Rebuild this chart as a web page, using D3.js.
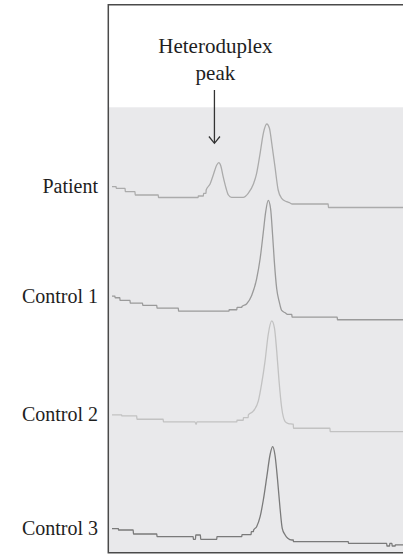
<!DOCTYPE html>
<html lang="en">
<head>
<meta charset="UTF-8" />
<title>Heteroduplex chromatograms</title>
<script src="https://d3js.org/d3.v7.min.js"></script>
<style>
  body { margin: 0; background: #fff; }
  svg text { font-family: "Liberation Serif", "Times New Roman", serif; fill: #1e1e1e; }
</style>
</head>
<body>
<script>
// trace names, top to bottom
const traceNames = ["Patient", "Control 1", "Control 2", "Control 3"];
const traceColors = ["#ababab", "#9a9a9a", "#c2c2c2", "#7a7a7a"];

// [time (min), signal]; a repeated time means a vertical step
const patient = [
  [0, 21.3], [0.14, 21.3], [0.14, 19.7], [0.45, 19.7], [0.45, 16.3], [0.79, 16.3], [0.79, 13],
  [1.59, 13], [1.59, 10.5], [2.96, 10.5], [2.96, 12], [3.14, 12], [3.14, 14.7], [3.23, 14.7],
  [3.23, 18], [3.37, 24], [3.48, 33], [3.60, 43], [3.67, 45.3], [3.74, 42], [3.82, 31.3],
  [3.92, 19.7], [4.00, 13], [4.11, 10.7], [4.51, 10.7], [4.68, 14.7], [4.86, 24], [4.97, 34.7],
  [5.09, 54.7], [5.20, 74.7], [5.32, 84], [5.41, 79.7], [5.49, 64.7], [5.60, 41.3], [5.71, 18],
  [5.83, 9.7], [6.00, 6.3], [6.12, 5], [6.19, 4], [7.43, 4], [7.43, 0.5], [10, 0.5]
];
const control1 = [
  [0, 23.6], [0.10, 23.6], [0.10, 22], [0.27, 22], [0.27, 19.3], [0.62, 19.3], [0.62, 16.6],
  [1.05, 16.6], [1.05, 14.3], [1.54, 14.3], [1.54, 11.6], [2.28, 11.6], [2.28, 8.6], [4.02, 8.6],
  [4.02, 10], [4.29, 10], [4.29, 12.3], [4.46, 12.3], [4.46, 13.3], [4.63, 16], [4.80, 24.3],
  [4.97, 41], [5.09, 61], [5.20, 87.6], [5.28, 107.6], [5.37, 119.3], [5.45, 111], [5.52, 84.3],
  [5.58, 57.6], [5.66, 31], [5.75, 17.6], [5.83, 9.3], [5.95, 7], [6.05, 5.3], [6.18, 5.3],
  [6.18, 2.6], [7.74, 2.6], [7.74, 0], [10, 0]
];
const control2 = [
  [0, 16.6], [0.33, 16.6], [0.33, 15.6], [0.85, 15.6], [0.85, 12.3], [1.76, 12.3], [1.76, 9.6],
  [2.85, 9.6], [2.89, 7.3], [2.92, 9.6], [4.29, 9.6], [4.29, 11.3], [4.51, 11.3], [4.51, 14],
  [4.68, 14], [4.68, 16.6], [4.86, 20.6], [5.03, 30.6], [5.14, 47.3], [5.26, 70.6], [5.37, 97.3],
  [5.49, 110.6], [5.58, 104], [5.66, 80.6], [5.74, 50.6], [5.83, 24], [5.95, 10], [6.06, 8],
  [6.23, 7.3], [6.23, 3.3], [7.49, 3.3], [7.49, 0], [10, 0]
];
const control3 = [
  [0, 14.6], [0.22, 14.6], [0.22, 13.3], [0.73, 13.3], [0.73, 9.3], [1.54, 9.3], [1.54, 6.6],
  [2.79, 6.6], [2.79, 4], [2.87, 4], [2.87, 8.3], [3.04, 8.3], [3.04, 4], [3.60, 4], [3.60, 6.6],
  [4.46, 6.6], [4.46, 8.6], [4.78, 8.6], [4.78, 11.6], [4.86, 11.6], [4.86, 13.3], [4.97, 16.6],
  [5.09, 26.6], [5.20, 43.3], [5.32, 66.6], [5.43, 88.3], [5.52, 96.6], [5.60, 88.3], [5.69, 63.3],
  [5.77, 36.6], [5.85, 15], [5.95, 8.3], [6.04, 5], [6.18, 3.3], [6.23, 3.3], [6.23, 1.6],
  [8.12, 1.6], [8.12, 0], [9.44, 0], [9.44, -2.7], [9.54, -2.7], [9.54, 0], [9.62, 0],
  [9.62, -2.7], [9.73, -2.7], [9.73, -1.5], [10, -1.5]
];
const traces = [patient, control1, control2, control3];

const annotationLines = ["Heteroduplex", "peak"];
const annotationTime = 3.52;

const W = 403, H = 554;
const frame = { left: 108.3, top: 4.7, bottom: 552.7, shadeTop: 107.3 };

const svg = d3.select("body").append("svg")
  .attr("width", W).attr("height", H);

const x = d3.scaleLinear().domain([0, 10]).range([112, W]);
const base = d3.scalePoint().domain(traceNames).range([208, 543.3]);
const sig = d3.scaleLinear().domain([0, 120]).range([0, 120]);

// shaded plotting area
svg.append("rect")
  .attr("x", frame.left).attr("y", frame.shadeTop)
  .attr("width", W - frame.left).attr("height", frame.bottom - frame.shadeTop)
  .attr("fill", "#e9e9eb");

svg.append("defs").append("clipPath").attr("id", "plot")
  .append("rect").attr("x", frame.left).attr("y", frame.top)
  .attr("width", W - frame.left).attr("height", frame.bottom - frame.top);

const g = svg.append("g").attr("clip-path", "url(#plot)");

traces.forEach((data, i) => {
  const name = traceNames[i];
  // nudge repeated times a hair so the monotone curve draws clean vertical steps
  const pts = data.map(d => [d[0], d[1]]);
  for (let j = 1; j < pts.length; j++) {
    if (pts[j][0] <= pts[j - 1][0]) pts[j][0] = pts[j - 1][0] + 0.006;
  }
  const line = d3.line()
    .x(d => x(d[0]))
    .y(d => base(name) - sig(d[1]))
    .curve(d3.curveMonotoneX);
  g.append("path")
    .attr("d", line(pts))
    .attr("fill", "none")
    .attr("stroke", traceColors[i])
    .attr("stroke-width", 1.3);

  svg.append("text")
    .attr("x", 98)
    .attr("y", base(name) - sig(data[0][1]))
    .attr("dy", "0.32em")
    .attr("text-anchor", "end")
    .style("font-size", "20px")
    .text(name);
});

// annotation
const ax = x(annotationTime);
svg.selectAll(".ann").data(annotationLines).join("text")
  .attr("class", "ann")
  .attr("x", ax + 1)
  .attr("y", (d, i) => 53.3 + i * 27)
  .attr("text-anchor", "middle")
  .style("font-size", "21px")
  .text(d => d);

svg.append("line")
  .attr("x1", ax).attr("x2", ax).attr("y1", 90).attr("y2", 143)
  .attr("stroke", "#333").attr("stroke-width", 1.3);
svg.append("path")
  .attr("d", `M${ax - 5.5},${136.5} L${ax},${143.3} L${ax + 5.5},${136.5}`)
  .attr("fill", "none").attr("stroke", "#333").attr("stroke-width", 1.3);

// frame: top, left and bottom rules
const frameLine = d3.line();
svg.append("path")
  .attr("d", frameLine([[W, frame.top], [frame.left, frame.top], [frame.left, frame.bottom], [W, frame.bottom]]))
  .attr("fill", "none").attr("stroke", "#4a4a4a").attr("stroke-width", 1.5);
</script>
</body>
</html>
